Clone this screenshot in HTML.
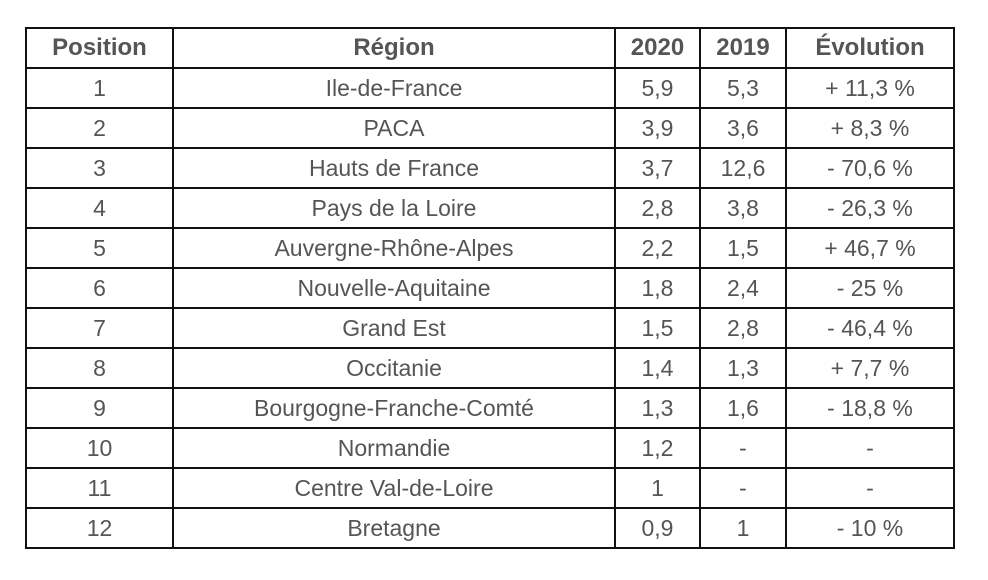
<!DOCTYPE html>
<html><head><meta charset="utf-8"><style>
html,body{margin:0;padding:0;background:#fff;width:988px;height:580px;overflow:hidden}
table{position:absolute;left:25px;top:27px;border-collapse:collapse;font-family:"Liberation Sans",Arial,sans-serif;color:#555;table-layout:fixed}
td,th{border:2px solid #111;height:38px;padding:0;text-align:center;font-size:23px;line-height:38px;white-space:nowrap}
th{font-weight:bold;font-size:24px}
</style></head><body>
<table>
<colgroup><col style="width:147px"><col style="width:442px"><col style="width:85px"><col style="width:86px"><col style="width:168px"></colgroup>
<thead><tr>
<th>Position</th>
<th>Région</th>
<th>2020</th>
<th>2019</th>
<th>Évolution</th></tr></thead>
<tbody id="tb"></tbody>
</table>
<script>
const positions=[1,2,3,4,5,6,7,8,9,10,11,12];
const regions=["Ile-de-France","PACA","Hauts de France","Pays de la Loire","Auvergne-Rhône-Alpes","Nouvelle-Aquitaine","Grand Est","Occitanie","Bourgogne-Franche-Comté","Normandie","Centre Val-de-Loire","Bretagne"];
const v2020=["5,9","3,9","3,7","2,8","2,2","1,8","1,5","1,4","1,3","1,2","1","0,9"];
const v2019=["5,3","3,6","12,6","3,8","1,5","2,4","2,8","1,3","1,6","-","-","1"];
const evolution=["+ 11,3 %","+ 8,3 %","- 70,6 %","- 26,3 %","+ 46,7 %","- 25 %","- 46,4 %","+ 7,7 %","- 18,8 %","-","-","- 10 %"];
const tb=document.getElementById('tb');
const names=['position-cell','region-cell','value-2020-cell','value-2019-cell','evolution-cell'];
for(let i=0;i<regions.length;i++){
  const tr=document.createElement('tr');
  
  
  const vals=[positions[i],regions[i],v2020[i],v2019[i],evolution[i]];
  vals.forEach((v,j)=>{
    const td=document.createElement('td');
    
    
    td.textContent=v;
    tr.appendChild(td);
  });
  tb.appendChild(tr);
}
</script>
</body></html>
